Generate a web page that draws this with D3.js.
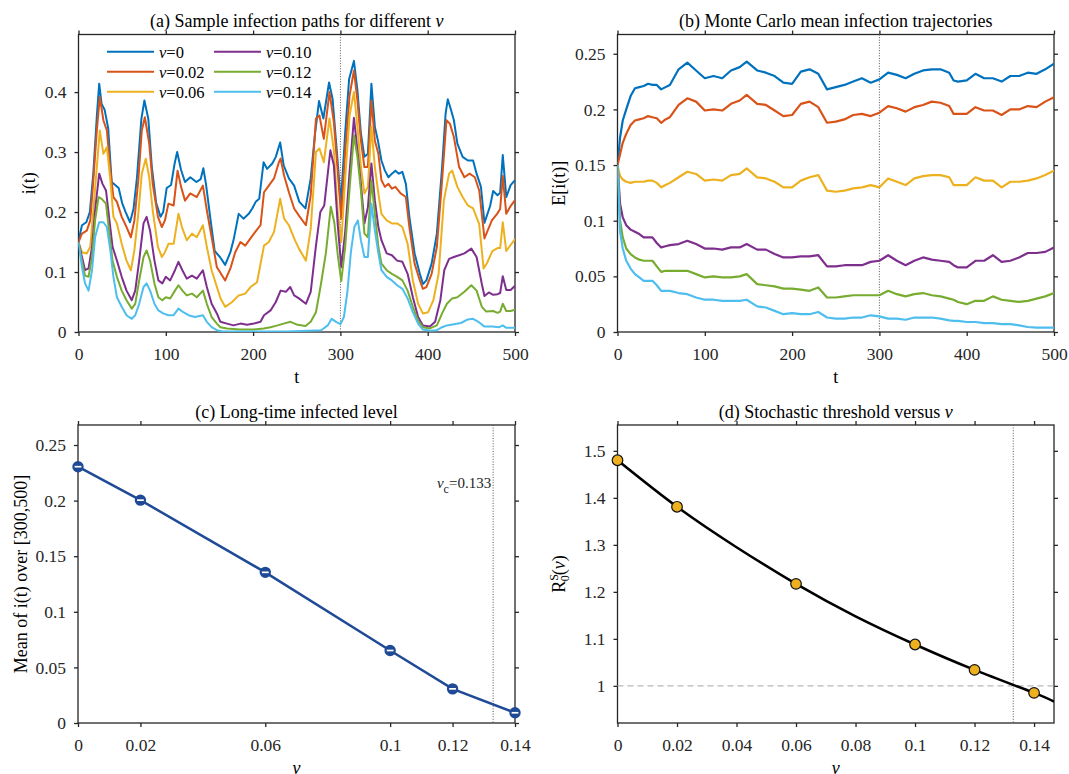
<!DOCTYPE html>
<html>
<head>
<meta charset="utf-8">
<script src="https://cdn.jsdelivr.net/npm/d3@7"></script>
<style>
  body { margin: 0; background: #fff; }
  svg, svg text { font-family: "Liberation Serif", "Times New Roman", serif; }
</style>
</head>
<body>
<div id="chart"></div>
<script>
'use strict';

// nu levels and MATLAB default colour order
const nuLevels = [0, 0.02, 0.06, 0.10, 0.12, 0.14];
const nuLabels = ['0', '0.02', '0.06', '0.10', '0.12', '0.14'];
const colors = ['#0072BD', '#D95319', '#EDB120', '#7E2F8E', '#77AC30', '#4DBEEE'];

// (a) one sample path per nu, [t, i(t)]
const pathNu000 = [[0,0.15],[2,0.165],[4,0.178],[9,0.183],[13,0.2],[17,0.265],[21,0.36],[23.7,0.414],[26.5,0.38],[30,0.37],[34,0.34],[38,0.25],[42,0.245],[46,0.24],[50,0.215],[54,0.2],[59,0.183],[63,0.205],[67,0.258],[72,0.355],[75.5,0.386],[80,0.355],[84,0.275],[89,0.215],[94,0.192],[97,0.2],[101,0.24],[106,0.245],[110,0.28],[113,0.3],[117.5,0.27],[122,0.25],[128,0.258],[135,0.25],[140,0.255],[143,0.273],[146,0.247],[151,0.19],[156,0.135],[162,0.125],[168,0.112],[174,0.133],[178,0.156],[183.5,0.197],[189,0.189],[195,0.197],[199,0.206],[203,0.217],[207,0.222],[212,0.283],[216,0.272],[222,0.281],[226,0.292],[231,0.316],[235,0.278],[241,0.256],[247,0.244],[253,0.217],[260,0.206],[266,0.256],[271,0.331],[275.5,0.385],[280.5,0.356],[287,0.416],[291,0.389],[296,0.3],[300.5,0.214],[305.5,0.333],[310,0.422],[315.5,0.452],[319.5,0.403],[323.5,0.331],[327.5,0.292],[331.5,0.297],[335.5,0.414],[339.5,0.342],[343,0.319],[347,0.286],[351,0.269],[355,0.258],[359,0.264],[363,0.269],[367,0.264],[371,0.267],[375,0.247],[379,0.192],[385,0.131],[391,0.097],[394.5,0.08],[398.5,0.086],[404.5,0.114],[410.5,0.164],[416.5,0.275],[420.5,0.364],[423,0.388],[427,0.369],[430,0.353],[434,0.314],[440,0.292],[446,0.286],[452,0.286],[456,0.264],[461,0.242],[465,0.182],[471.5,0.21],[475,0.235],[480,0.228],[483,0.232],[486,0.295],[490,0.225],[495,0.245],[500,0.253]];
const pathNu002 = [[0,0.15],[4,0.164],[9.5,0.169],[13.5,0.186],[17,0.253],[21,0.336],[24.4,0.392],[28.5,0.353],[32.5,0.336],[36.5,0.269],[40,0.225],[44,0.217],[49.5,0.192],[55,0.175],[60,0.158],[64,0.186],[68.5,0.253],[72.5,0.336],[76,0.358],[81,0.314],[85,0.247],[91,0.192],[95.5,0.175],[99,0.186],[103,0.214],[109,0.211],[113.5,0.269],[117.5,0.242],[122,0.219],[128,0.231],[135.5,0.225],[142.5,0.244],[147,0.203],[152.5,0.158],[158.5,0.108],[162,0.1],[168,0.086],[174,0.106],[179.5,0.133],[185.5,0.15],[191,0.144],[197,0.156],[202.5,0.167],[208.5,0.178],[212.5,0.233],[218,0.244],[224,0.256],[229.5,0.283],[231.5,0.289],[235.5,0.261],[241,0.233],[247,0.206],[252.5,0.194],[260.5,0.178],[266,0.228],[272,0.356],[276,0.361],[281,0.322],[287.5,0.4],[292.5,0.35],[297,0.267],[301,0.189],[305.5,0.3],[310.5,0.394],[315.5,0.436],[319.5,0.386],[323.5,0.319],[327.5,0.275],[331.5,0.275],[335.5,0.386],[339.5,0.319],[343.5,0.297],[347,0.253],[351,0.242],[355,0.247],[359,0.239],[363,0.242],[369,0.231],[375,0.225],[379,0.175],[385,0.114],[391,0.086],[394.5,0.072],[398.5,0.075],[404.5,0.097],[410.5,0.142],[416.5,0.253],[421.5,0.353],[425.5,0.347],[430,0.325],[436,0.275],[442,0.258],[448,0.264],[454,0.258],[459,0.236],[465,0.156],[473.5,0.186],[479.5,0.197],[483,0.205],[486,0.26],[490,0.197],[495,0.21],[500,0.22]];
const pathNu006 = [[0,0.15],[4,0.133],[9.5,0.131],[13.5,0.142],[17,0.203],[21,0.275],[24.4,0.336],[28.5,0.297],[32.5,0.308],[36.5,0.253],[40,0.192],[44,0.181],[49.5,0.147],[55,0.119],[60,0.103],[64,0.136],[68.5,0.197],[72.5,0.264],[77,0.289],[81,0.258],[85,0.203],[91,0.142],[95.5,0.125],[99,0.133],[103,0.147],[109,0.147],[114.5,0.197],[118.5,0.175],[124,0.153],[130,0.164],[135.5,0.158],[142.5,0.178],[147,0.142],[152.5,0.103],[158.5,0.075],[163,0.055],[168,0.042],[176,0.05],[183.5,0.061],[191,0.064],[197,0.075],[204.5,0.083],[212.5,0.144],[218,0.15],[224,0.167],[231,0.222],[235.5,0.189],[241,0.178],[247,0.156],[252.5,0.139],[260.5,0.119],[266,0.172],[272,0.3],[276,0.306],[281,0.283],[287.5,0.356],[292.5,0.303],[297,0.2],[301,0.15],[305.5,0.256],[310.5,0.361],[315.5,0.4],[319.5,0.342],[323.5,0.275],[327.5,0.231],[331.5,0.242],[335.5,0.342],[339.5,0.275],[343.5,0.231],[347,0.197],[353,0.186],[359,0.181],[365,0.181],[371,0.175],[377,0.147],[383,0.086],[389,0.047],[394.5,0.031],[400.5,0.033],[406.5,0.053],[412.5,0.097],[418.5,0.219],[424.5,0.264],[428,0.269],[434,0.242],[440,0.225],[446,0.211],[452,0.206],[459,0.18],[464,0.106],[468,0.115],[474,0.135],[480,0.14],[483,0.14],[486,0.183],[490,0.135],[495,0.145],[500,0.155]];
const pathNu010 = [[0,0.15],[4,0.125],[7.5,0.103],[11.5,0.106],[15.5,0.142],[19,0.203],[23.7,0.264],[27.5,0.247],[31.5,0.236],[35,0.192],[39,0.142],[44,0.119],[49.5,0.092],[55,0.069],[61,0.053],[65,0.069],[69.5,0.119],[74.5,0.181],[78,0.192],[82,0.169],[87,0.119],[91.5,0.086],[96,0.081],[100,0.092],[105,0.086],[110.5,0.103],[114.5,0.117],[119,0.103],[124,0.089],[130,0.094],[135.5,0.089],[142.5,0.103],[147,0.075],[152.5,0.047],[158.5,0.031],[162.5,0.017],[170,0.014],[177.5,0.011],[185.5,0.014],[193,0.012],[201,0.014],[208.5,0.017],[212.5,0.028],[220,0.036],[226,0.05],[231.5,0.069],[237.5,0.067],[242.5,0.075],[247,0.061],[252.5,0.056],[260.5,0.047],[266,0.067],[272,0.144],[277,0.2],[281.5,0.211],[288.5,0.303],[292.5,0.278],[297,0.178],[301,0.108],[305.5,0.167],[310.5,0.267],[315.5,0.357],[319.5,0.303],[323.5,0.247],[327.5,0.181],[331.5,0.208],[335.5,0.281],[339.5,0.219],[343.5,0.175],[347,0.153],[353,0.131],[359,0.128],[365,0.119],[371,0.117],[377,0.097],[383,0.058],[389,0.025],[394.5,0.011],[402.5,0.009],[408.5,0.017],[414.5,0.053],[419,0.103],[424.5,0.122],[430,0.125],[436,0.128],[442,0.131],[450,0.139],[456,0.125],[462,0.08],[465,0.06],[470,0.066],[475,0.062],[480,0.063],[483,0.065],[486,0.093],[490,0.07],[495,0.07],[500,0.077]];
const pathNu012 = [[0,0.15],[4,0.117],[7.5,0.094],[11.5,0.092],[15.5,0.125],[19,0.186],[23,0.225],[26.5,0.222],[31.5,0.214],[35,0.169],[39,0.119],[44,0.092],[49.5,0.069],[55,0.053],[61,0.039],[65,0.047],[69.5,0.086],[74.5,0.125],[78,0.136],[82,0.119],[87,0.081],[91.5,0.058],[96,0.053],[100,0.058],[105,0.056],[110.5,0.069],[114.5,0.078],[119,0.069],[124,0.061],[130,0.064],[135.5,0.058],[142.5,0.069],[147,0.047],[152.5,0.025],[158.5,0.014],[162.5,0.008],[170,0.006],[185,0.004],[200,0.004],[212,0.006],[220,0.008],[228,0.011],[235,0.014],[243,0.017],[251,0.012],[260,0.01],[266,0.017],[272,0.033],[277.5,0.078],[283.5,0.133],[289,0.209],[293,0.183],[297,0.128],[301,0.085],[305.5,0.142],[310.5,0.239],[315.5,0.328],[319.5,0.292],[323.5,0.236],[327.5,0.164],[331.5,0.158],[335.5,0.253],[339.5,0.197],[343.5,0.142],[347,0.114],[353,0.103],[359,0.097],[365,0.092],[371,0.086],[377,0.069],[383,0.042],[389,0.019],[394.5,0.008],[402.5,0.006],[410.5,0.011],[416.5,0.031],[422,0.047],[428,0.056],[434,0.058],[442,0.067],[450,0.078],[456,0.069],[462,0.042],[467,0.034],[475,0.035],[480,0.032],[483,0.034],[486,0.047],[490,0.035],[495,0.035],[500,0.037]];
const pathNu014 = [[0,0.15],[4,0.108],[7.5,0.081],[11.5,0.069],[15.5,0.103],[19,0.158],[23.7,0.183],[28.5,0.183],[32.5,0.175],[36.5,0.136],[40,0.092],[44,0.058],[49.5,0.042],[55,0.028],[61,0.022],[65,0.028],[69.5,0.047],[74.5,0.075],[78,0.081],[82,0.069],[87,0.047],[91.5,0.036],[97,0.031],[103,0.028],[109,0.028],[114.5,0.039],[120,0.033],[126,0.028],[133.5,0.025],[142.5,0.028],[147,0.017],[152.5,0.008],[158.5,0.003],[165,0.001],[200,0.001],[240,0.001],[278,0.003],[285.5,0.011],[290,0.022],[295,0.017],[300,0.013],[304,0.025],[308,0.067],[312,0.133],[316,0.175],[320,0.186],[323.5,0.153],[327.5,0.125],[331.5,0.125],[335.5,0.214],[339.5,0.169],[343.5,0.131],[347,0.103],[353,0.092],[359,0.086],[365,0.078],[371,0.072],[377,0.056],[383,0.033],[389,0.014],[394.5,0.004],[402.5,0.002],[410.5,0.003],[416.5,0.008],[422,0.011],[430,0.013],[438,0.015],[446,0.021],[452,0.022],[458,0.017],[465,0.009],[474,0.009],[482,0.008],[486,0.011],[490,0.007],[500,0.007]];
const samplePaths = [pathNu000, pathNu002, pathNu006, pathNu010, pathNu012, pathNu014];

// (b) Monte Carlo means on a shared time grid
const tMean = [0,3,6,10,15,20,25,30,35,40,45,50,55,60,70,80,90,100,110,120,130,140,148,160,170,180,190,200,210,220,230,240,250,260,270,280,290,300,310,320,330,340,350,360,370,380,385,390,400,410,420,430,440,450,460,470,480,490,500];
const meanNu000 = [0.15,0.175,0.19,0.2,0.212,0.219,0.22,0.221,0.223,0.222,0.222,0.218,0.22,0.222,0.236,0.242,0.235,0.228,0.23,0.228,0.235,0.238,0.243,0.235,0.233,0.23,0.224,0.223,0.234,0.236,0.232,0.218,0.22,0.222,0.225,0.228,0.224,0.227,0.233,0.231,0.228,0.232,0.235,0.236,0.236,0.233,0.226,0.225,0.226,0.232,0.228,0.228,0.225,0.23,0.23,0.233,0.232,0.236,0.241];
const meanNu002 = [0.15,0.16,0.17,0.178,0.186,0.19,0.191,0.192,0.194,0.193,0.192,0.188,0.191,0.193,0.204,0.21,0.207,0.199,0.2,0.199,0.205,0.208,0.213,0.205,0.204,0.199,0.194,0.195,0.205,0.207,0.202,0.188,0.189,0.191,0.195,0.196,0.194,0.197,0.203,0.201,0.198,0.202,0.204,0.207,0.206,0.203,0.196,0.196,0.196,0.202,0.199,0.199,0.195,0.2,0.2,0.203,0.202,0.207,0.211];
const meanNu006 = [0.15,0.14,0.137,0.135,0.134,0.135,0.135,0.135,0.136,0.136,0.134,0.13,0.132,0.134,0.139,0.144,0.142,0.136,0.137,0.136,0.141,0.142,0.147,0.139,0.138,0.135,0.13,0.13,0.136,0.139,0.141,0.127,0.126,0.127,0.129,0.13,0.132,0.13,0.138,0.135,0.132,0.138,0.14,0.141,0.141,0.139,0.132,0.132,0.132,0.139,0.136,0.136,0.13,0.135,0.135,0.136,0.138,0.141,0.145];
const meanNu010 = [0.15,0.115,0.103,0.096,0.092,0.09,0.088,0.085,0.085,0.085,0.08,0.076,0.077,0.078,0.079,0.082,0.079,0.075,0.075,0.074,0.076,0.076,0.079,0.074,0.074,0.07,0.067,0.067,0.068,0.068,0.069,0.059,0.059,0.06,0.06,0.06,0.063,0.064,0.069,0.064,0.06,0.064,0.067,0.065,0.064,0.063,0.06,0.058,0.058,0.064,0.064,0.069,0.063,0.064,0.067,0.071,0.071,0.072,0.076];
const meanNu012 = [0.15,0.1,0.085,0.075,0.07,0.067,0.065,0.064,0.064,0.064,0.059,0.054,0.055,0.055,0.055,0.055,0.052,0.049,0.05,0.049,0.049,0.05,0.052,0.043,0.042,0.041,0.039,0.039,0.038,0.037,0.04,0.031,0.031,0.032,0.033,0.033,0.033,0.033,0.037,0.034,0.032,0.034,0.035,0.033,0.032,0.03,0.029,0.027,0.025,0.028,0.028,0.032,0.029,0.028,0.027,0.028,0.03,0.032,0.035];
const meanNu014 = [0.15,0.09,0.075,0.064,0.057,0.052,0.049,0.046,0.046,0.046,0.042,0.037,0.037,0.037,0.035,0.034,0.031,0.029,0.029,0.028,0.028,0.028,0.029,0.023,0.022,0.019,0.016,0.017,0.016,0.016,0.018,0.013,0.012,0.012,0.013,0.013,0.015,0.014,0.012,0.012,0.011,0.013,0.013,0.013,0.012,0.0105,0.01,0.01,0.009,0.009,0.008,0.008,0.007,0.007,0.006,0.0045,0.004,0.004,0.004];
const meanPaths = [meanNu000, meanNu002, meanNu006, meanNu010, meanNu012, meanNu014];

// (c) long-time mean of i(t) over [300,500]
const longTimeMean = [0.2305, 0.2004, 0.1355, 0.0652, 0.0307, 0.0092];
const nuCritical = 0.133;

// (d) stochastic threshold R0^S(nu)
const r0Points = [1.48, 1.381, 1.217, 1.088, 1.034, 0.985];
const r0CurveNu = [0, 0.02, 0.04, 0.06, 0.08, 0.10, 0.12, 0.14, 0.1467];
const r0CurveVal = [1.48, 1.381, 1.295, 1.217, 1.148, 1.088, 1.034, 0.985, 0.9665];

const tTicks = [0, 100, 200, 300, 400, 500];

const W = 1069, H = 774;
const serif = '"Liberation Serif", "Times New Roman", serif';
const axisColor = '#262626';
const tickFont = 17.5;
const fmt = d3.format('~g');

const svg = d3.select('#chart').append('svg')
    .attr('width', W)
    .attr('height', H)
    .attr('font-family', serif);

let clipCount = 0;

function makePanel(cfg) {
    let g = svg.append('g');
    let x = d3.scaleLinear().domain(cfg.xDomain).range([cfg.left, cfg.right]);
    let y = d3.scaleLinear().domain(cfg.yDomain).range([cfg.bottom, cfg.top]);

    let clipId = 'clip' + (clipCount++);
    svg.append('clipPath').attr('id', clipId)
        .append('rect')
        .attr('x', cfg.left).attr('y', cfg.top)
        .attr('width', cfg.right - cfg.left).attr('height', cfg.bottom - cfg.top);

    // ticks on all four sides, pointing out (labels only bottom/left)
    let axes = g.append('g').attr('class', 'axes');
    let sides = [
        axes.append('g').attr('transform', 'translate(0,' + cfg.bottom + ')')
            .call(d3.axisBottom(x).tickValues(cfg.xTicks).tickSize(4).tickSizeOuter(0).tickPadding(11.5).tickFormat(fmt)),
        axes.append('g').attr('transform', 'translate(0,' + cfg.top + ')')
            .call(d3.axisTop(x).tickValues(cfg.xTicks).tickSize(4).tickSizeOuter(0).tickFormat('')),
        axes.append('g').attr('transform', 'translate(' + cfg.left + ',0)')
            .call(d3.axisLeft(y).tickValues(cfg.yTicks).tickSize(4).tickSizeOuter(0).tickPadding(8).tickFormat(fmt)),
        axes.append('g').attr('transform', 'translate(' + cfg.right + ',0)')
            .call(d3.axisRight(y).tickValues(cfg.yTicks).tickSize(4).tickSizeOuter(0).tickFormat(''))
    ];
    sides.forEach(function(s) {
        s.attr('font-family', serif).attr('font-size', tickFont);
    });

    axes.selectAll('.domain').remove();
    axes.selectAll('.tick line').attr('stroke', axisColor).attr('stroke-width', 1.3);
    axes.selectAll('.tick text')
        .attr('fill', axisColor)
        .attr('font-family', serif);

    g.append('rect')
        .attr('x', cfg.left).attr('y', cfg.top)
        .attr('width', cfg.right - cfg.left).attr('height', cfg.bottom - cfg.top)
        .attr('fill', 'none')
        .attr('stroke', axisColor)
        .attr('stroke-width', 1.3);

    // title
    let title = g.append('text')
        .attr('x', (cfg.left + cfg.right) / 2)
        .attr('y', cfg.top - 7.5)
        .attr('text-anchor', 'middle')
        .attr('font-size', 18)
        .attr('fill', '#000');
    title.append('tspan').text(cfg.title);
    if (cfg.titleNu) {
        title.append('tspan').attr('font-style', 'italic').text('ν');
    }

    // x label
    let xl = g.append('text')
        .attr('x', (cfg.left + cfg.right) / 2)
        .attr('y', cfg.bottom + 51)
        .attr('text-anchor', 'middle')
        .attr('font-size', 18)
        .attr('fill', '#000');
    if (cfg.xLabel === 'nu') {
        xl.attr('font-style', 'italic').text('ν');
    } else {
        xl.text(cfg.xLabel);
    }

    // y label (rotated)
    let yl = g.append('text')
        .attr('transform', 'translate(' + cfg.yLabelX + ',' + ((cfg.top + cfg.bottom) / 2) + ') rotate(-90)')
        .attr('text-anchor', 'middle')
        .attr('font-size', 18)
        .attr('fill', '#000');

    return { g: g, x: x, y: y, clip: 'url(#' + clipId + ')', yLabel: yl, cfg: cfg };
}

function dottedV(p, xv) {
    p.g.append('line')
        .attr('x1', p.x(xv)).attr('x2', p.x(xv))
        .attr('y1', p.cfg.top).attr('y2', p.cfg.bottom)
        .attr('stroke', '#555')
        .attr('stroke-width', 1)
        .attr('stroke-dasharray', '1,1.6');
}

/*
* (a) sample infection paths
 */
let pa = makePanel({
    left: 78.5, right: 515, top: 34.5, bottom: 332,
    xDomain: [0, 500], yDomain: [0, 0.496],
    xTicks: tTicks, yTicks: [0, 0.1, 0.2, 0.3, 0.4],
    title: '(a) Sample infection paths for different ', titleNu: true,
    xLabel: 't', yLabelX: 35
});
pa.yLabel.text('i(t)');
dottedV(pa, 300);

let lineA = d3.line()
    .x(function(d) { return pa.x(d[0]); })
    .y(function(d) { return pa.y(d[1]); });

pa.g.append('g').attr('clip-path', pa.clip)
    .selectAll('path')
    .data(samplePaths)
    .enter()
    .append('path')
    .attr('d', lineA)
    .attr('fill', 'none')
    .attr('stroke', function(d, i) { return colors[i]; })
    .attr('stroke-width', 2)
    .attr('stroke-linejoin', 'round');

// legend, two columns, no box
let legend = pa.g.append('g');
nuLabels.forEach(function(lab, i) {
    let col = Math.floor(i / 3),
        row = i % 3;
    let lx = col === 0 ? 107 : 214,
        ly = 51.7 + row * 20;
    legend.append('line')
        .attr('x1', lx).attr('x2', lx + 47)
        .attr('y1', ly).attr('y2', ly)
        .attr('stroke', colors[i])
        .attr('stroke-width', 2);
    let t = legend.append('text')
        .attr('x', lx + 52)
        .attr('y', ly + 6)
        .attr('font-size', 16.5)
        .attr('fill', '#000');
    t.append('tspan').attr('font-style', 'italic').text('ν');
    t.append('tspan').text('=' + lab);
});

/*
* (b) Monte Carlo mean trajectories
 */
let pb = makePanel({
    left: 617.5, right: 1054, top: 34.5, bottom: 332,
    xDomain: [0, 500], yDomain: [0, 0.2673],
    xTicks: tTicks, yTicks: [0, 0.05, 0.1, 0.15, 0.2, 0.25],
    title: '(b) Monte Carlo mean infection trajectories', titleNu: false,
    xLabel: 't', yLabelX: 565
});
pb.yLabel.text('E[i(t)]');
dottedV(pb, 300);

let lineB = d3.line()
    .x(function(d, i) { return pb.x(tMean[i]); })
    .y(function(d) { return pb.y(d); });

pb.g.append('g').attr('clip-path', pb.clip)
    .selectAll('path')
    .data(meanPaths)
    .enter()
    .append('path')
    .attr('d', lineB)
    .attr('fill', 'none')
    .attr('stroke', function(d, i) { return colors[i]; })
    .attr('stroke-width', 2.2)
    .attr('stroke-linejoin', 'round');

/*
* (c) long-time infected level
 */
let pc = makePanel({
    left: 78, right: 515, top: 425, bottom: 723,
    xDomain: [0, 0.14], yDomain: [0, 0.268],
    xTicks: nuLevels, yTicks: [0, 0.05, 0.1, 0.15, 0.2, 0.25],
    title: '(c) Long-time infected level', titleNu: false,
    xLabel: 'nu', yLabelX: 27
});
pc.yLabel.text('Mean of i(t) over [300,500]');
dottedV(pc, nuCritical);

let cBlue = '#1F4A96';

pc.g.append('path')
    .datum(longTimeMean)
    .attr('d', d3.line()
        .x(function(d, i) { return pc.x(nuLevels[i]); })
        .y(function(d) { return pc.y(d); }))
    .attr('fill', 'none')
    .attr('stroke', cBlue)
    .attr('stroke-width', 2.5);

let cMarks = pc.g.selectAll('.mark')
    .data(longTimeMean)
    .enter()
    .append('g')
    .attr('class', 'mark')
    .attr('transform', function(d, i) { return 'translate(' + pc.x(nuLevels[i]) + ',' + pc.y(d) + ')'; });

cMarks.append('circle')
    .attr('r', 4.6)
    .attr('fill', cBlue)
    .attr('stroke', cBlue)
    .attr('stroke-width', 2.2);

cMarks.append('line')
    .attr('x1', -3.4).attr('x2', 3.4)
    .attr('y1', 0).attr('y2', 0)
    .attr('stroke', '#fff')
    .attr('stroke-width', 1.7);

let nuc = pc.g.append('text')
    .attr('x', pc.x(nuCritical) - 2)
    .attr('y', 488)
    .attr('text-anchor', 'end')
    .attr('font-size', 15)
    .attr('fill', '#222');
nuc.append('tspan').attr('font-style', 'italic').text('ν');
nuc.append('tspan').attr('font-size', 12).attr('dy', 5).text('c');
nuc.append('tspan').attr('dy', -5).text('=' + nuCritical);

/*
* (d) stochastic threshold
 */
let pd = makePanel({
    left: 617.5, right: 1054, top: 425, bottom: 723,
    xDomain: [0, 0.1467], yDomain: [0.921, 1.555],
    xTicks: [0, 0.02, 0.04, 0.06, 0.08, 0.1, 0.12, 0.14], yTicks: [1, 1.1, 1.2, 1.3, 1.4, 1.5],
    title: '(d) Stochastic threshold versus ', titleNu: true,
    xLabel: 'nu', yLabelX: 565
});

// R_0^S(nu) label
pd.yLabel.append('tspan').text('R');
pd.yLabel.append('tspan').attr('font-size', 12).attr('dy', -7).text('S');
pd.yLabel.append('tspan').attr('font-size', 12).attr('dx', -7).attr('dy', 11).text('0');
pd.yLabel.append('tspan').attr('dy', -4).text('(');
pd.yLabel.append('tspan').attr('font-style', 'italic').text('ν');
pd.yLabel.append('tspan').text(')');

pd.g.append('line')
    .attr('x1', pd.cfg.left).attr('x2', pd.cfg.right)
    .attr('y1', pd.y(1)).attr('y2', pd.y(1))
    .attr('stroke', '#b8b8b8')
    .attr('stroke-width', 1.4)
    .attr('stroke-dasharray', '6,4');

dottedV(pd, nuCritical);

pd.g.append('path')
    .datum(r0CurveVal)
    .attr('clip-path', pd.clip)
    .attr('d', d3.line()
        .curve(d3.curveNatural)
        .x(function(d, i) { return pd.x(r0CurveNu[i]); })
        .y(function(d) { return pd.y(d); }))
    .attr('fill', 'none')
    .attr('stroke', '#000')
    .attr('stroke-width', 2.5);

pd.g.selectAll('.pt')
    .data(r0Points)
    .enter()
    .append('circle')
    .attr('class', 'pt')
    .attr('cx', function(d, i) { return pd.x(nuLevels[i]); })
    .attr('cy', function(d) { return pd.y(d); })
    .attr('r', 5.3)
    .attr('fill', '#EDB120')
    .attr('stroke', '#111')
    .attr('stroke-width', 1.2);
</script>
</body>
</html>
